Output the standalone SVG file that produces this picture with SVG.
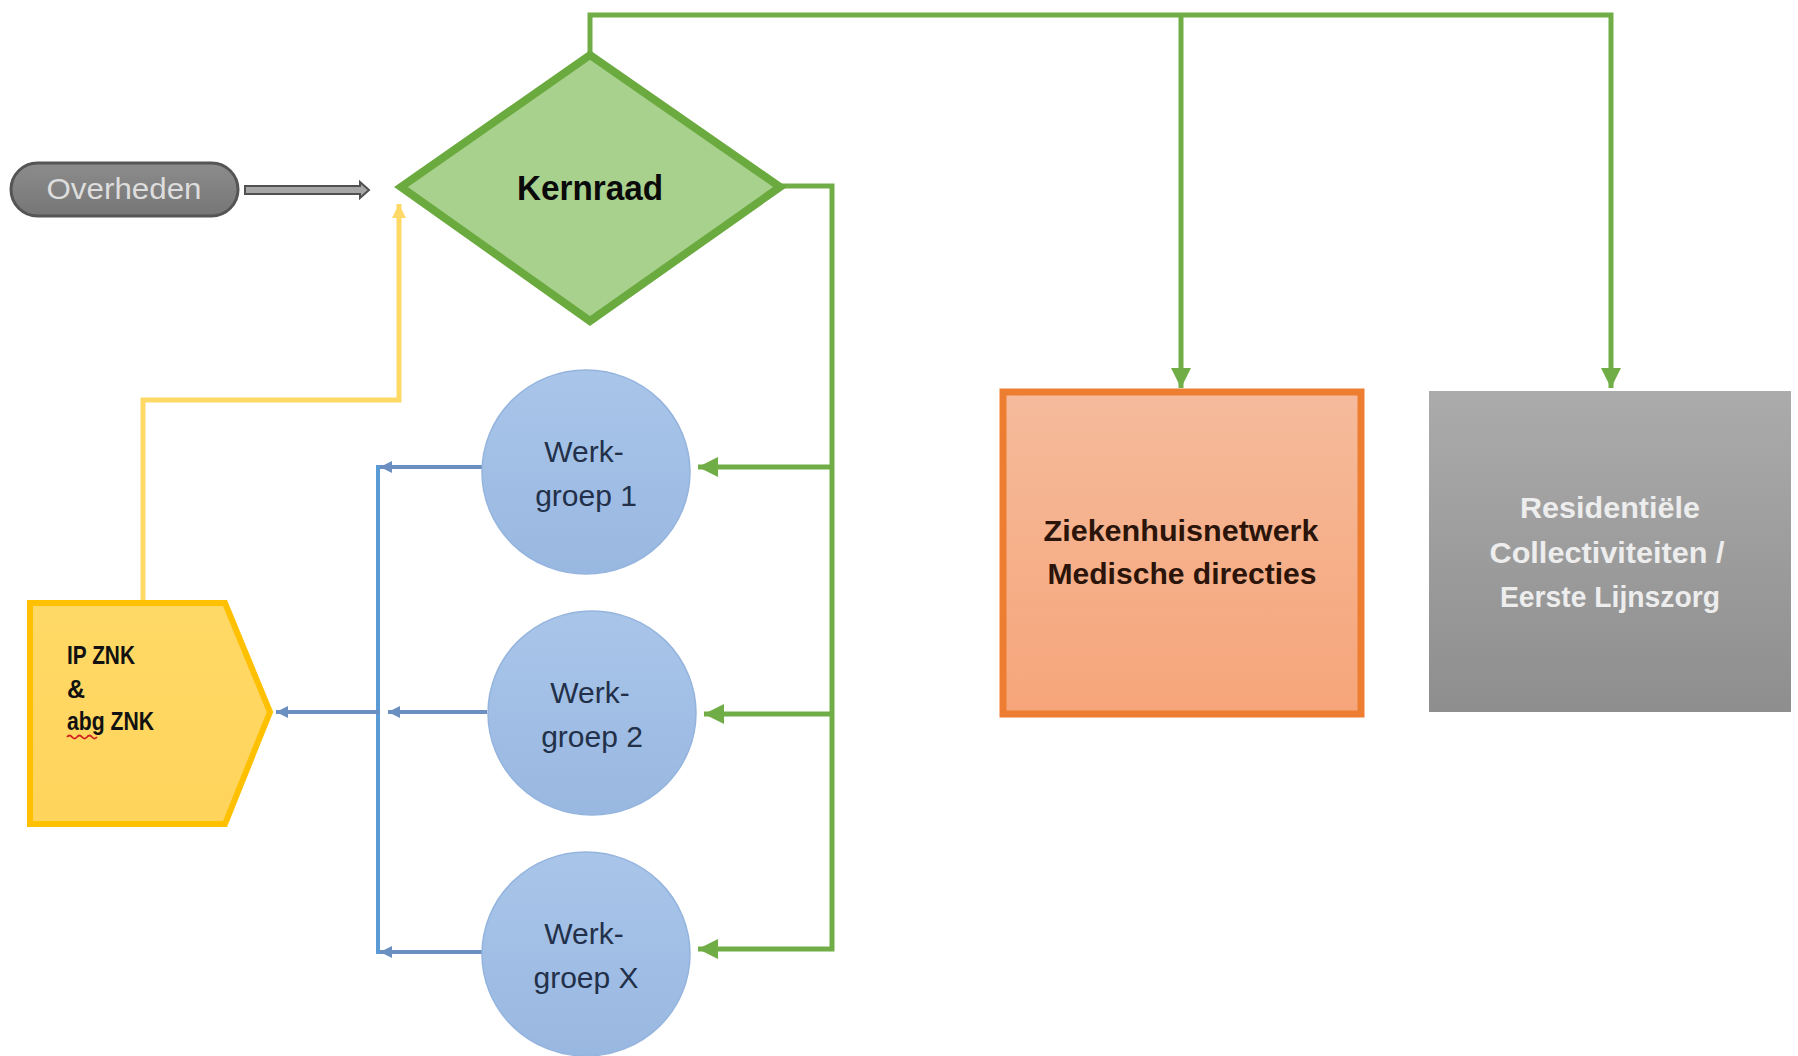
<svg xmlns="http://www.w3.org/2000/svg" width="1798" height="1056" viewBox="0 0 1798 1056">
<style>
.g{fill:none;stroke:#70AD47;stroke-width:5}
.b{fill:none;stroke:#5B9BD5;stroke-width:4}
.bh{fill:none;stroke:#6A8FC0;stroke-width:4}
.y{fill:none;stroke:#FFD966;stroke-width:5}
.t{font-family:"Liberation Sans",Arial,sans-serif}
.wg{font-family:"Liberation Sans",Arial,sans-serif;font-size:30px;fill:#22304A;text-anchor:middle}
.circ{fill:url(#blueG);stroke:#94B4DE;stroke-width:1.5}
</style>
<defs>
<linearGradient id="blueG" x1="0" y1="0" x2="0" y2="1"><stop offset="0" stop-color="#A9C5E9"/><stop offset="1" stop-color="#99B8E1"/></linearGradient>
<linearGradient id="orG" x1="0" y1="0" x2="0" y2="1"><stop offset="0" stop-color="#F5BB9C"/><stop offset="1" stop-color="#F6A579"/></linearGradient>
<linearGradient id="grG" x1="0" y1="0" x2="0" y2="1"><stop offset="0" stop-color="#ABABAB"/><stop offset="1" stop-color="#8E8E8E"/></linearGradient>
<linearGradient id="yeG" x1="0" y1="0" x2="0" y2="1"><stop offset="0" stop-color="#FFD966"/><stop offset="1" stop-color="#FFD45C"/></linearGradient>
<linearGradient id="piG" x1="0" y1="0" x2="0" y2="1"><stop offset="0" stop-color="#8C8C8C"/><stop offset="1" stop-color="#767676"/></linearGradient>
<marker id="ag" markerUnits="userSpaceOnUse" markerWidth="22" markerHeight="22" refX="20" refY="11" orient="auto"><path d="M0,1 L20,11 L0,21 Z" fill="#70AD47"/></marker>
<marker id="ab" markerUnits="userSpaceOnUse" markerWidth="14" markerHeight="14" refX="12" refY="7" orient="auto"><path d="M0,1 L12,7 L0,13 Z" fill="#6A8FC0"/></marker>
<marker id="ay" markerUnits="userSpaceOnUse" markerWidth="16" markerHeight="16" refX="14" refY="8" orient="auto"><path d="M0,1 L14,8 L0,15 Z" fill="#FFD966"/></marker>
</defs>

<g id="connectors">
<polyline class="g" points="590,56 590,15 1611,15 1611,388" marker-end="url(#ag)"/>
<line class="g" x1="1181" y1="15" x2="1181" y2="388" marker-end="url(#ag)"/>
<polyline class="g" points="778,186 832,186 832,949 698,949" marker-end="url(#ag)"/>
<line class="g" x1="832" y1="467" x2="698" y2="467" marker-end="url(#ag)"/>
<line class="g" x1="832" y1="714" x2="704" y2="714" marker-end="url(#ag)"/>
<line class="b" x1="378" y1="465" x2="378" y2="954"/>
<line class="bh" x1="482" y1="467" x2="380" y2="467" marker-end="url(#ab)"/>
<line class="bh" x1="487" y1="712" x2="388" y2="712" marker-end="url(#ab)"/>
<line class="bh" x1="380" y1="712" x2="276" y2="712" marker-end="url(#ab)"/>
<line class="bh" x1="482" y1="952" x2="380" y2="952" marker-end="url(#ab)"/>
<polyline class="y" points="143,603 143,400 399,400 399,204" marker-end="url(#ay)"/>
<path d="M245,186 L360,186 L360,182 L369,190 L360,198 L360,194 L245,194 Z" fill="#A6A6A6" stroke="#505050" stroke-width="2"/>
</g>

<g id="overheden">
<rect x="11" y="163" width="227" height="53" rx="26.5" fill="url(#piG)" stroke="#555555" stroke-width="3"/>
<text class="t" x="124" y="199" font-size="30" fill="#DDDDDD" text-anchor="middle" textLength="155" lengthAdjust="spacingAndGlyphs">Overheden</text>
</g>

<g id="kernraad">
<polygon points="590,55 780,187 590,321 401,187" fill="#A9D18E" stroke="#6AAA3F" stroke-width="8" stroke-linejoin="miter"/>
<text class="t" x="590" y="200" font-size="35" font-weight="bold" fill="#0A0A0A" text-anchor="middle" textLength="146" lengthAdjust="spacingAndGlyphs">Kernraad</text>
</g>

<g id="werkgroep1">
<ellipse class="circ" cx="586" cy="472" rx="104" ry="102"/>
<text class="wg" x="584" y="462">Werk-</text>
<text class="wg" x="586" y="506">groep 1</text>
</g>

<g id="werkgroep2">
<ellipse class="circ" cx="592" cy="713" rx="104" ry="102"/>
<text class="wg" x="590" y="703">Werk-</text>
<text class="wg" x="592" y="747">groep 2</text>
</g>

<g id="werkgroepX">
<ellipse class="circ" cx="586" cy="954" rx="104" ry="102"/>
<text class="wg" x="584" y="944">Werk-</text>
<text class="wg" x="586" y="988">groep X</text>
</g>

<g id="ipznk">
<polygon points="30,603 225,603 270,712 225,824 30,824" fill="url(#yeG)" stroke="#FFC000" stroke-width="6" stroke-linejoin="miter"/>
<g class="t" font-size="25" font-weight="bold" fill="#111111">
<text x="67" y="664" textLength="68" lengthAdjust="spacingAndGlyphs">IP ZNK</text>
<text x="67" y="698">&amp;</text>
<text x="67" y="730" textLength="87" lengthAdjust="spacingAndGlyphs">abg ZNK</text>
</g>
<path d="M67,737 q2.5,-3 5,0 t5,0 t5,0 t5,0 t5,0 t5,0" fill="none" stroke="#D02020" stroke-width="1.8"/>
</g>

<g id="ziekenhuisnetwerk">
<rect x="1003" y="392" width="358" height="322" fill="url(#orG)" stroke="#ED7D31" stroke-width="7"/>
<g class="t" font-size="30" font-weight="bold" fill="#2B1409" text-anchor="middle">
<text x="1181" y="541" textLength="275" lengthAdjust="spacingAndGlyphs">Ziekenhuisnetwerk</text>
<text x="1182" y="584" textLength="269" lengthAdjust="spacingAndGlyphs">Medische directies</text>
</g>
</g>

<g id="residentiele">
<rect x="1429" y="391" width="362" height="321" fill="url(#grG)"/>
<g class="t" font-size="29" font-weight="bold" fill="#EDEDED" text-anchor="middle">
<text x="1610" y="518" textLength="180" lengthAdjust="spacingAndGlyphs">Residentiële</text>
<text x="1607" y="563" textLength="235" lengthAdjust="spacingAndGlyphs">Collectiviteiten /</text>
<text x="1610" y="607" textLength="220" lengthAdjust="spacingAndGlyphs">Eerste Lijnszorg</text>
</g>
</g>
</svg>
